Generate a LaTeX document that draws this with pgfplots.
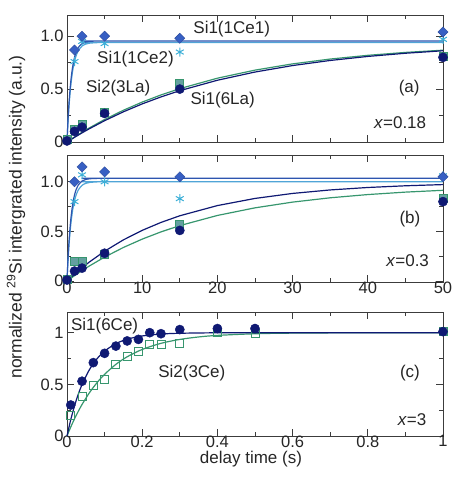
\documentclass[border=0pt]{standalone}
\usepackage{pgfplots}
\pgfplotsset{compat=1.18}
\usepackage{fontspec}
\setmainfont{Liberation Sans}
\definecolor{dblue}{RGB}{55,95,195}
\definecolor{dline}{RGB}{45,85,175}
\definecolor{scyan}{RGB}{60,175,215}
\definecolor{cline}{RGB}{80,165,215}
\definecolor{navy}{RGB}{15,25,115}
\definecolor{gline}{RGB}{55,150,110}
\definecolor{sqfill}{RGB}{100,160,160}
\definecolor{axc}{RGB}{60,60,60}
\tikzset{lab/.style={font=\fontsize{17}{20}\selectfont, text=black!85}}
\pgfplotsset{
  panel/.style={scale only axis, width=376pt, height=127pt,
    clip=false, tick align=inside,
    axis line style={line width=0.8pt, color=axc},
    every tick/.style={line width=0.8pt, color=axc},
    major tick length=7pt, minor tick length=4pt,
    /pgf/number format/assume math mode=true,
    ticklabel style={font=\fontsize{16.5}{19}\selectfont, text=black!85},
  },
  curve/.style={no marks, line width=1.2pt},
  dia/.style={only marks, mark=square*, mark size=3.6pt, mark options={rotate=45, fill=dblue, draw=dblue!80!black, line width=0.4pt}},
  star/.style={only marks, mark=asterisk, mark size=4.5pt, mark options={draw=scyan, line width=1pt}},
  circ/.style={only marks, mark=*, mark size=4.6pt, mark options={fill=navy, draw=navy}},
  sqa/.style={only marks, mark=square*, mark size=4pt, mark options={fill=sqfill, draw=gline, line width=0.8pt}},
  sqo/.style={only marks, mark=square, mark size=4pt, mark options={draw=gline, line width=0.9pt}},
}
\begin{document}
\begin{tikzpicture}[font=\fontsize{17}{20}\selectfont]
\useasboundingbox (-67pt,15pt) rectangle (385pt,-462pt);
% panel (a)
\begin{axis}[panel, at={(0pt,0pt)}, anchor=north west,
  xmin=0, xmax=50, ymin=0, ymax=1.2,
  xtick={0,10,...,50}, xticklabels={}, minor x tick num=1,
  ytick={0,0.5,1}, yticklabels={0,0.5,1.0}, minor y tick num=1]
\addplot[curve, gline] coordinates {(0,0)(1,0.0470)(2,0.0917)(3,0.1341)(5,0.2126)(7.5,0.3001)(10,0.3771)(12.5,0.4448)(15,0.5044)(20,0.6029)(25,0.6792)(30,0.7382)(35,0.7839)(40,0.8191)(45,0.8465)(50,0.8676)};
\addplot[curve, navy] coordinates {(0,0)(1,0.0442)(2,0.0863)(3,0.1265)(5,0.2013)(7.5,0.2853)(10,0.3600)(12.5,0.4261)(15,0.4850)(20,0.5835)(25,0.6611)(30,0.7223)(35,0.7705)(40,0.8085)(45,0.8386)(50,0.8621)};
\addplot[curve, cline, smooth] coordinates {(0,0)(0.1,0.1443)(0.2,0.2665)(0.3,0.3699)(0.5,0.5315)(0.75,0.6707)(1,0.7624)(1.25,0.8230)(1.5,0.8629)(2,0.9064)(2.5,0.9254)(3,0.9337)(4,0.9388)(5,0.9398)(50,0.94)};
\addplot[curve, dline, smooth] coordinates {(0,0)(0.1,0.1587)(0.2,0.2912)(0.3,0.4016)(0.5,0.5702)(0.75,0.7108)(1,0.8000)(1.25,0.8566)(1.5,0.8925)(2,0.9298)(2.5,0.9449)(3,0.9509)(4,0.9543)(5,0.9549)(50,0.955)};
\addplot[sqa] coordinates {(0,0.02)(1,0.12)(2,0.17)(5,0.28)(15,0.55)(50,0.81)};
\addplot[circ] coordinates {(0,0.01)(1,0.10)(2,0.14)(5,0.27)(15,0.50)(50,0.80)};
\addplot[star] coordinates {(1,0.76)(2,0.95)(5,0.93)(15,0.85)(50,0.97)};
\addplot[dia] coordinates {(1,0.87)(2,1.0)(5,1.0)(15,0.98)(50,1.04)};
\node[lab] at (axis cs:21.9,1.07) {Si1(1Ce1)};
\node[lab] at (axis cs:9.1,0.78) {Si1(1Ce2)};
\node[lab, fill=white, inner sep=1pt] at (axis cs:6.8,0.51) {Si2(3La)};
\node[lab] at (axis cs:20.7,0.40) {Si1(6La)};
\node[lab] at (axis cs:45.5,0.51) {(a)};
\node[lab] at (axis cs:44.3,0.18) {\textit{x}=0.18};
\end{axis}
% panel (b)
\begin{axis}[panel, at={(0pt,-140pt)}, anchor=north west,
  xmin=0, xmax=50, ymin=-0.01, ymax=1.27,
  xtick={0,10,...,50}, minor x tick num=1,
  ytick={0,0.5,1}, yticklabels={0,0.5,1.0}, minor y tick num=1,
  xticklabel style={yshift=4pt}]
\addplot[curve, gline] coordinates {(0,0)(1,0.0539)(2,0.1048)(3,0.1528)(5,0.2410)(7.5,0.3381)(10,0.4222)(12.5,0.4952)(15,0.5583)(20,0.6607)(25,0.7375)(30,0.7953)(35,0.8387)(40,0.8713)(45,0.8959)(50,0.9143)};
\addplot[curve, navy] coordinates {(0,0)(1,0.0689)(2,0.1331)(3,0.1929)(5,0.3003)(7.5,0.4147)(10,0.5105)(12.5,0.5905)(15,0.6575)(20,0.7603)(25,0.8323)(30,0.8827)(35,0.9179)(40,0.9426)(45,0.9598)(50,0.9719)};
\addplot[curve, cline, smooth] coordinates {(0,0)(0.1,0.1535)(0.2,0.2835)(0.3,0.3935)(0.5,0.5654)(0.75,0.7135)(1,0.8111)(1.25,0.8755)(1.5,0.9179)(2,0.9643)(2.5,0.9845)(3,0.9933)(4,0.9987)(5,0.9998)(50,1.0)};
\addplot[curve, dline, smooth] coordinates {(0,0)(0.1,0.1720)(0.2,0.3156)(0.3,0.4352)(0.5,0.6180)(0.75,0.7704)(1,0.8670)(1.25,0.9284)(1.5,0.9673)(2,1.0077)(2.5,1.0240)(3,1.0306)(4,1.0343)(5,1.035)(50,1.035)};
\addplot[sqa] coordinates {(0,0.02)(1,0.20)(2,0.20)(5,0.27)(15,0.57)(50,0.83)};
\addplot[circ] coordinates {(0,0.01)(1,0.10)(2,0.13)(5,0.28)(15,0.51)(50,0.80)};
\addplot[star] coordinates {(1,0.80)(2,1.07)(5,1.00)(15,0.83)(50,1.06)};
\addplot[dia] coordinates {(1,1.0)(2,1.15)(5,1.10)(15,1.05)(50,1.05)};
\node[lab] at (axis cs:45.6,0.62) {(b)};
\node[lab] at (axis cs:45.3,0.21) {\textit{x}=0.3};
\end{axis}
% panel (c)
\begin{axis}[panel, at={(0pt,-297pt)}, anchor=north west, height=124pt,
  xmin=0, xmax=1, ymin=0, ymax=1.2,
  xtick={0,0.2,...,1}, xticklabels={0,0.2,0.4,0.6,0.8,1}, minor x tick num=1,
  ytick={0,0.5,1}, yticklabels={0,0.5,1}, minor y tick num=1,
  xticklabel style={yshift=4pt}]
\addplot[curve, gline, smooth] coordinates {(0,0)(0.01,0.0869)(0.02,0.1662)(0.03,0.2387)(0.04,0.3049)(0.06,0.4205)(0.08,0.5168)(0.1,0.5971)(0.13,0.6933)(0.16,0.7665)(0.2,0.8377)(0.25,0.8970)(0.3,0.9346)(0.35,0.9585)(0.4,0.9736)(0.5,0.9894)(0.6,0.9957)(0.8,0.9993)(1,1.0)};
\addplot[curve, navy, smooth] coordinates {(0,0)(0.01,0.1584)(0.02,0.2916)(0.03,0.4038)(0.04,0.4983)(0.06,0.6446)(0.08,0.7482)(0.1,0.8216)(0.13,0.8937)(0.16,0.9366)(0.2,0.9682)(0.25,0.9866)(0.3,0.9943)(0.4,0.9990)(0.5,0.9998)(1,1.0)};
\addplot[sqo] coordinates {(0.01,0.20)(0.04,0.38)(0.07,0.49)(0.1,0.55)(0.13,0.69)(0.16,0.77)(0.19,0.82)(0.22,0.89)(0.25,0.89)(0.3,0.90)(0.4,1.0)(0.5,0.99)(1,1.01)};
\addplot[circ] coordinates {(0.01,0.30)(0.04,0.53)(0.07,0.71)(0.1,0.80)(0.13,0.87)(0.16,0.92)(0.19,0.935)(0.22,1.0)(0.25,0.99)(0.3,1.03)(0.4,1.04)(0.5,1.04)(1,1.01)};
\node[lab] at (axis cs:0.10,1.06) {Si1(6Ce)};
\node[lab] at (axis cs:0.332,0.61) {Si2(3Ce)};
\node[lab] at (axis cs:0.912,0.61) {(c)};
\node[lab] at (axis cs:0.918,0.155) {\textit{x}=3};
\end{axis}
\node[lab] at (184pt,-444pt) {delay time (s)};
\node[lab, font=\fontsize{17.5}{20}\selectfont, rotate=90] at (-51pt,-202pt) {normalized \textsuperscript{29}Si intergrated intensity (a.u.)};
\end{tikzpicture}
\end{document}
